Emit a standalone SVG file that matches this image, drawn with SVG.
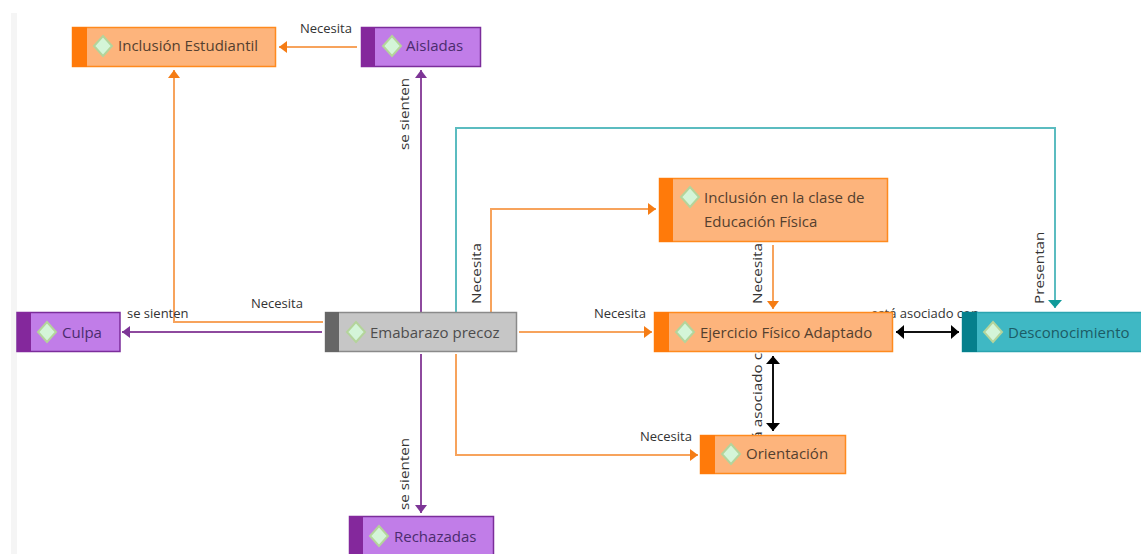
<svg xmlns="http://www.w3.org/2000/svg" width="1141" height="554" viewBox="0 0 1141 554">
<style>
text{font-family:"Open Sans","Liberation Sans",sans-serif}
.lbl{font-size:13px;fill:#333}
.vl{font-size:12.500px;fill:#333}
.nt{font-size:15px;font-weight:500}
.nto{fill:#54402f}.ntp{fill:#4b2c6e}.ntg{fill:#4d4d4d}.ntt{fill:#1c5c66}
.c{fill:none;stroke-width:2}
.o{stroke:#f7a35c}.p{stroke:#8e4a9e}.t{stroke:#5bbcc0}.k{stroke:#111}
.or{fill:#fdb47c;stroke:#ff8a1e;stroke-width:1.500}.orb{fill:#ff7a0a}
.pu{fill:#c17de8;stroke:#7b2d9b;stroke-width:1.500}.pub{fill:#84289c}
.gr{fill:#c6c6c6;stroke:#8a8a8a;stroke-width:1.500}.grb{fill:#666}
.te{fill:#3fb8c4;stroke:#2aa4b0;stroke-width:1.500}.teb{fill:#05808c}
.d{fill:#d4f5d8;stroke:#b4d49b;stroke-width:2}
</style>
<defs>
<marker id="ao" markerWidth="10" markerHeight="12" refX="9" refY="6" orient="auto-start-reverse" markerUnits="userSpaceOnUse"><path d="M1 0L9 6L1 12Z" fill="#f57c14"/></marker>
<marker id="ap" markerWidth="10" markerHeight="12" refX="9" refY="6" orient="auto-start-reverse" markerUnits="userSpaceOnUse"><path d="M1 0L9 6L1 12Z" fill="#7d3596"/></marker>
<marker id="at" markerWidth="10" markerHeight="14" refX="9" refY="7" orient="auto-start-reverse" markerUnits="userSpaceOnUse"><path d="M1 0L9 7L1 14Z" fill="#0f9a9a"/></marker>
<marker id="ak" markerWidth="10" markerHeight="14" refX="9" refY="7" orient="auto-start-reverse" markerUnits="userSpaceOnUse"><path d="M1 0L9 7L1 14Z" fill="#000"/></marker>
</defs>
<rect width="1141" height="554" fill="#fff"/>
<rect x="11" y="13" width="6" height="541" fill="#f5f5f5"/>
<g id="connectors">
<path class="c t" d="M456 312V128H1055V308" marker-end="url(#at)"/>
<path class="c o" d="M323 322H174V70" marker-end="url(#ao)"/>
<path class="c p" d="M322 332H122" marker-end="url(#ap)"/>
<path class="c p" d="M421 312V70" marker-end="url(#ap)"/>
<path class="c p" d="M421 354V513" marker-end="url(#ap)"/>
<path class="c o" d="M357 47H279" marker-end="url(#ao)"/>
<path class="c o" d="M456 354V455H698" marker-end="url(#ao)"/>
<path class="c o" d="M491 312V209H656" marker-end="url(#ao)"/>
<path class="c o" d="M519 332H652" marker-end="url(#ao)"/>
<path class="c o" d="M773 245V309" marker-end="url(#ao)"/>
<path class="c k" d="M896 332H959" marker-start="url(#ak)" marker-end="url(#ak)"/>
<path class="c k" d="M773 356V431" marker-start="url(#ak)" marker-end="url(#ak)"/>
<text class="lbl" x="300" y="33">Necesita</text>
<text class="lbl" x="251" y="308">Necesita</text>
<text class="lbl" x="127" y="318">se sienten</text>
<text class="lbl" x="594" y="318">Necesita</text>
<text class="lbl" x="640" y="441">Necesita</text>
<text class="lbl" x="871" y="318">está asociado con</text>
<text class="vl" transform="translate(409,150) rotate(-90) scale(1.220,1)">se sienten</text>
<text class="vl" transform="translate(409,510) rotate(-90) scale(1.220,1)">se sienten</text>
<text class="vl" transform="translate(481,304) rotate(-90) scale(1.220,1)">Necesita</text>
<text class="vl" transform="translate(762,304) rotate(-90) scale(1.220,1)">Necesita</text>
<text class="vl" transform="translate(1044,304) rotate(-90) scale(1.220,1)">Presentan</text>
<text class="vl" transform="translate(762,461) rotate(-90) scale(1.220,1)">está asociado con</text>
</g>
<g id="n-inclusion-estudiantil"><rect class="or" x="72.500" y="27.500" width="203" height="39"/><rect class="orb" x="72" y="27" width="15" height="40"/><path class="d" d="M103 36L112 46L103 56L94 46Z"/><text class="nt nto" x="118" y="51">Inclusión Estudiantil</text></g>
<g id="n-aisladas"><rect class="pu" x="361.500" y="27.500" width="119" height="39"/><rect class="pub" x="361" y="27" width="14" height="40"/><path class="d" d="M392 36L401 46L392 56L383 46Z"/><text class="nt ntp" x="406" y="51">Aisladas</text></g>
<g id="n-culpa"><rect class="pu" x="17" y="312.500" width="103" height="39"/><rect class="pub" x="17" y="312" width="14" height="40"/><path class="d" d="M47 322L56 332L47 342L38 332Z"/><text class="nt ntp" x="62" y="338">Culpa</text></g>
<g id="n-embarazo"><rect class="gr" x="325.500" y="312.500" width="191" height="39"/><rect class="grb" x="325" y="312" width="14" height="40"/><path class="d" d="M356 322L365 332L356 342L347 332Z"/><text class="nt ntg" x="370" y="338">Emabarazo precoz</text></g>
<g id="n-rechazadas"><rect class="pu" x="349.500" y="516.500" width="144" height="40"/><rect class="pub" x="349" y="516" width="14" height="38"/><path class="d" d="M379 526L388 536L379 546L370 536Z"/><text class="nt ntp" x="394" y="542">Rechazadas</text></g>
<g id="n-inclusion-clase"><rect class="or" x="659.500" y="178.500" width="228" height="63"/><rect class="orb" x="659" y="178" width="14" height="64"/><path class="d" d="M690 187L699 197L690 207L681 197Z"/><text class="nt nto" x="704" y="203">Inclusión en la clase de</text><text class="nt nto" x="704" y="227">Educación Física</text></g>
<g id="n-ejercicio"><rect class="or" x="654.500" y="312.500" width="238" height="39"/><rect class="orb" x="654" y="312" width="15" height="40"/><path class="d" d="M685 322L694 332L685 342L676 332Z"/><text class="nt nto" x="700" y="338">Ejercicio Físico Adaptado</text></g>
<g id="n-desconocimiento"><rect class="te" x="962.500" y="312.500" width="180" height="39"/><rect class="teb" x="962" y="312" width="15" height="40"/><path class="d" d="M993 322L1002 332L993 342L984 332Z"/><text class="nt ntt" x="1008" y="338">Desconocimiento</text></g>
<g id="n-orientacion"><rect class="or" x="700.500" y="435.500" width="145" height="38"/><rect class="orb" x="700" y="435" width="15" height="39"/><path class="d" d="M731 444L740 454L731 464L722 454Z"/><text class="nt nto" x="746" y="459">Orientación</text></g>
</svg>
